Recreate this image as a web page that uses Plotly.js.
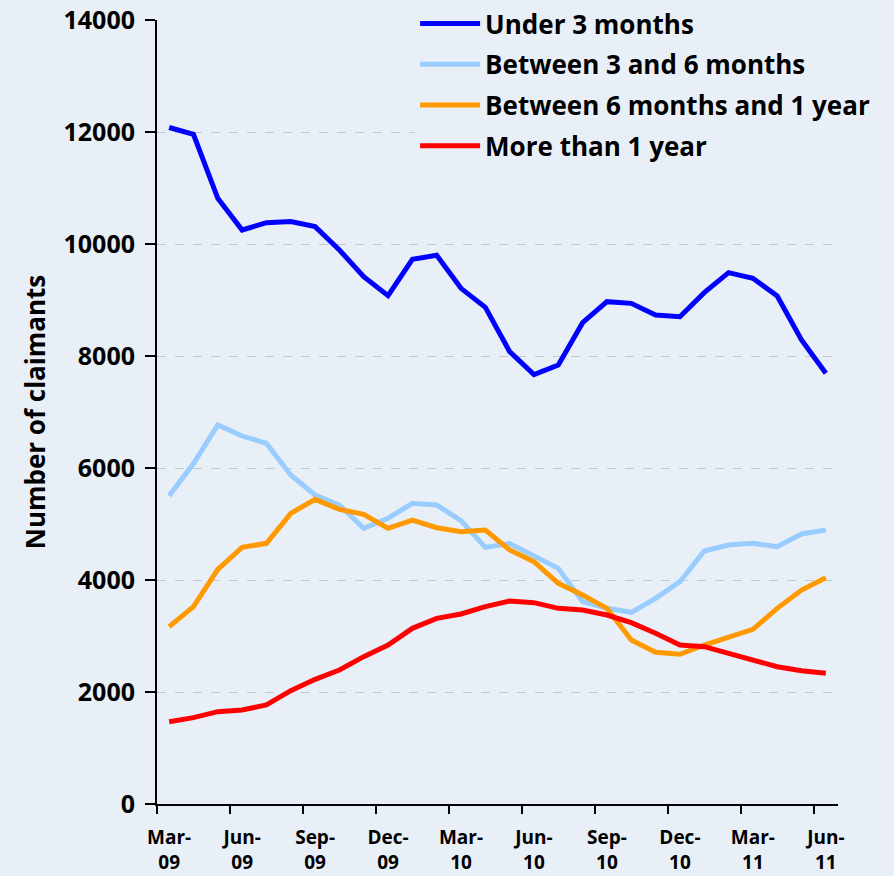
<!DOCTYPE html>
<html><head><meta charset="utf-8">
<script src="https://cdn.plot.ly/plotly-3.0.1.min.js"></script>
<style>html,body{margin:0;padding:0;background:#e9eff7;}</style>
</head><body>
<div id="chart" style="width:894px;height:876px;"></div>
<script>
const months = ["Mar-09","Apr-09","May-09","Jun-09","Jul-09","Aug-09","Sep-09","Oct-09","Nov-09","Dec-09",
  "Jan-10","Feb-10","Mar-10","Apr-10","May-10","Jun-10","Jul-10","Aug-10","Sep-10","Oct-10","Nov-10","Dec-10",
  "Jan-11","Feb-11","Mar-11","Apr-11","May-11","Jun-11"];
const tickLabels = ["Mar-<br>09","Jun-<br>09","Sep-<br>09","Dec-<br>09","Mar-<br>10","Jun-<br>10","Sep-<br>10","Dec-<br>10","Mar-<br>11","Jun-<br>11"];
const yTicks = [0,2000,4000,6000,8000,10000,12000,14000];
const under3 = [12080,11960,10816,10250,10380,10400,10310,9893,9417,9077,9726,9798,9208,8869,8077,7670,
  7839,8595,8970,8940,8732,8702,9131,9488,9387,9071,8286,7691];
const between3and6 = [5505,6080,6768,6571,6440,5875,5518,5339,4923,5101,5369,5339,5060,4583,4650,4420,
  4208,3613,3494,3423,3673,3970,4518,4625,4655,4595,4821,4893];
const between6and12 = [3167,3524,4190,4583,4655,5190,5440,5262,5173,4923,5071,4934,4863,4893,4536,4327,
  3941,3732,3494,2929,2708,2673,2839,2988,3119,3494,3821,4041];
const over1yr = [1470,1542,1649,1679,1768,2024,2226,2393,2631,2839,3137,3315,3393,3524,3625,3595,
  3494,3464,3375,3238,3048,2839,2810,2690,2560,2452,2381,2333];
const seriesNames = ["Under 3 months","Between 3 and 6 months","Between 6 months and 1 year","More than 1 year"];

const idx = months.map((m,i)=>i);
const tickIdx = idx.filter(i=>i%3===0);
const colors = ["#0000ff","#99ccff","#ff9900","#ff0000"];
const data = [under3,between3and6,between6and12,over1yr].map((ys,k)=>({
  x: idx, y: ys, type:"scatter", mode:"lines", name: seriesNames[k],
  legendgroup: "g"+k, text: months, hovertemplate:"%{text}: %{y}<extra></extra>",
  line:{color:colors[k], width:5}
}));

const font = "'Open Sans', 'DejaVu Sans', sans-serif";
const layout = {
  width:894, height:876,
  margin:{l:157, r:56, t:20, b:72, autoexpand:false},
  paper_bgcolor:"#e9eff7", plot_bgcolor:"#e9eff7",
  font:{family:font, color:"#000"},
  showlegend:true,
  legend:{x:0.379, y:1.0255, xanchor:"left", yanchor:"top", bgcolor:"rgba(233,239,247,1)",
    font:{family:font, size:26, color:"#000", weight:"bold"}, tracegroupgap:4, itemwidth:60},
  xaxis:{range:[-0.5,27.5], tickmode:"array", tickvals:tickIdx, ticktext:tickLabels,
    ticks:"", showgrid:false, zeroline:false, showline:true, linecolor:"#000", linewidth:2,
    ticklabelstandoff:15,
    tickfont:{family:font, size:19, weight:"bold"},
    minor:{tickmode:"linear", tick0:-0.5, dtick:3, ticks:"outside", ticklen:8, tickwidth:2, tickcolor:"#000", showgrid:false}},
  yaxis:{range:[0,14000], tickmode:"array", tickvals:yTicks, ticktext:yTicks.map(String),
    ticks:"outside", ticklen:10, tickwidth:2, tickcolor:"#000",
    showline:true, linecolor:"#000", linewidth:2, zeroline:false, ticklabelstandoff:5,
    showgrid:true, gridcolor:"#c4c8cc", griddash:"dash", gridwidth:1,
    tickfont:{family:font, size:25, weight:"bold"},
    title:{text:"Number of claimants", font:{family:font, size:26, weight:"bold"}, standoff:10}}
};
Plotly.newPlot("chart", data, layout, {displayModeBar:false, staticPlot:true});
</script>
</body></html>
